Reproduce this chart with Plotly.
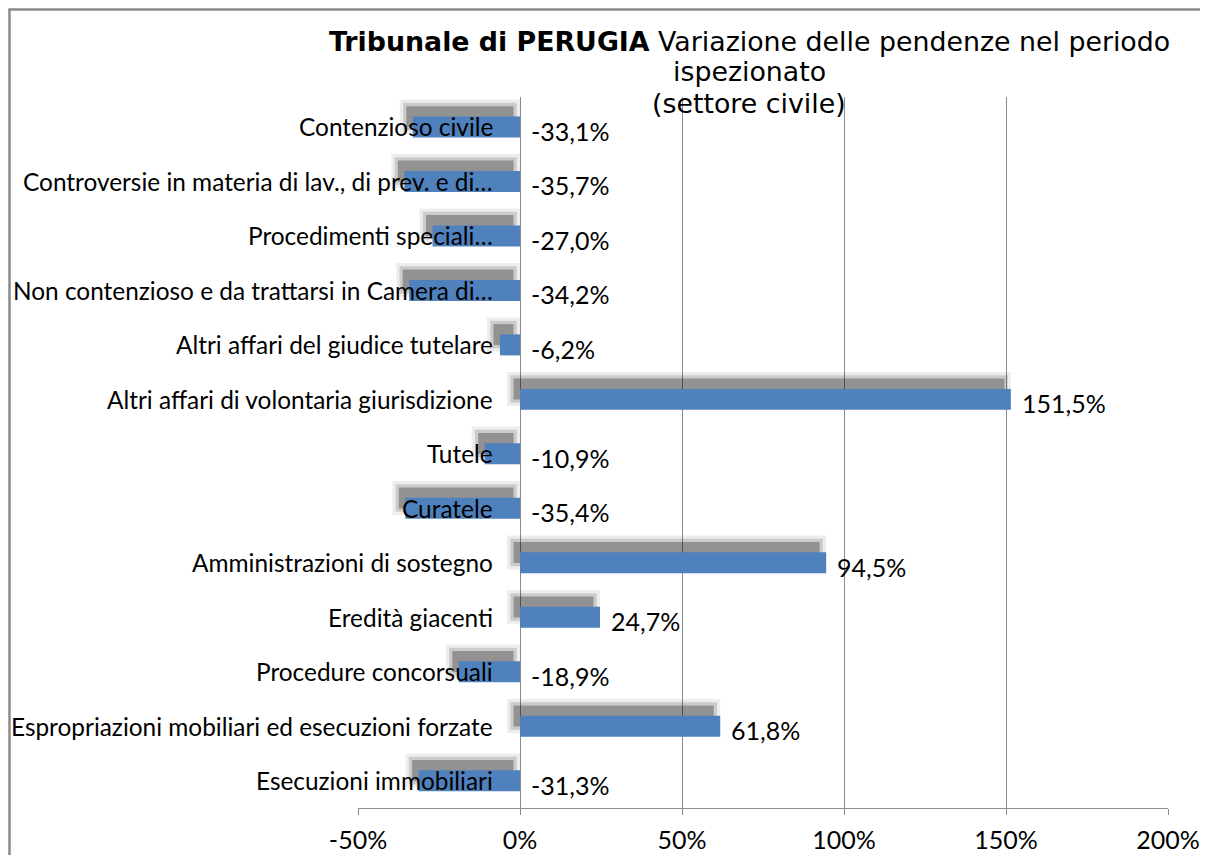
import plotly.graph_objects as go

categories = [
    "Contenzioso civile",
    "Controversie in materia di lav., di prev. e di…",
    "Procedimenti speciali…",
    "Non contenzioso e da trattarsi in Camera di…",
    "Altri affari del giudice tutelare",
    "Altri affari di volontaria giurisdizione",
    "Tutele",
    "Curatele",
    "Amministrazioni di sostegno",
    "Eredità giacenti",
    "Procedure concorsuali",
    "Espropriazioni mobiliari ed esecuzioni forzate",
    "Esecuzioni immobiliari",
]
values = [-33.1, -35.7, -27.0, -34.2, -6.2, 151.5, -10.9, -35.4, 94.5, 24.7, -18.9, 61.8, -31.3]
tick_values = [-50, 0, 50, 100, 150, 200]
tick_labels = ["-50%", "0%", "50%", "100%", "150%", "200%"]

BLUE = "#4F81BD"
GRID = "#8c8c8c"
LABEL_FONT = dict(family="Lato", size=25, color="#000000")
CAT_FONT = dict(family="Lato", size=24.4, color="#000000")

# page body has an 8px margin, so the figure is drawn 8px in from the window corner
OFF = 8
W, H = 1208 - OFF, 855 - OFF
L, R, T, B = 358 - OFF, 40, 97 - OFF, 47
plot_h = H - T - B
plot_w = W - L - R

def py(p):
    return (H - B - (p - OFF)) / plot_h

def px(p):
    return ((p - OFF) - L) / plot_w

fig = go.Figure()

bw = 0.385
# soft drop shadow (up-left), built from a few translucent layers
shadow_shift_x = -2.0   # in axis units (%)
shadow_shift_y = -0.19  # in category units (upwards)
for grow, alpha in [(2.0, 0.07), (1.0, 0.14), (0.0, 0.28)]:
    sgn = [1 if v >= 0 else -1 for v in values]
    xs = [v + 2 * grow * s for v, s in zip(values, sgn)]
    bases = [shadow_shift_x - grow * s for s in sgn]
    gy = grow * 0.06
    fig.add_trace(go.Bar(y=categories, x=xs, base=bases, orientation="h",
                         width=bw + 2 * gy, offset=-bw / 2 + shadow_shift_y - gy,
                         marker=dict(color=f"rgba(0,0,0,{alpha})", line_width=0),
                         hoverinfo="skip", showlegend=False))
fig.add_trace(go.Bar(y=categories, x=values, orientation="h",
                     width=bw, offset=-bw / 2, marker=dict(color=BLUE, line_width=0),
                     showlegend=False))

annotations = []
for c, v in zip(categories, values):
    annotations.append(dict(x=0, y=c, xref="x", yref="y", text=c, showarrow=False,
                            xanchor="right", yanchor="middle", xshift=-25, font=CAT_FONT))
    annotations.append(dict(x=max(v, 0), y=c, xref="x", yref="y",
                            text=f"{v:.1f}%".replace(".", ","), showarrow=False,
                            xanchor="left", yanchor="middle", xshift=9, yshift=-4,
                            font=LABEL_FONT))

title_font = dict(family="DejaVu Sans", size=26.8, color="#000000")
title_x = px(749)
annotations += [
    dict(x=title_x, y=py(42), xref="paper", yref="paper", showarrow=False,
         text="<b>Tribunale di PERUGIA</b> Variazione delle pendenze nel periodo",
         xanchor="center", yanchor="middle", font=title_font),
    dict(x=title_x, y=py(72), xref="paper", yref="paper", showarrow=False,
         text="ispezionato", xanchor="center", yanchor="middle", font=title_font),
    dict(x=title_x, y=py(103), xref="paper", yref="paper", showarrow=False,
         text="(settore civile)", xanchor="center", yanchor="middle", font=title_font),
]

fig.update_layout(
    width=W, height=H,
    margin=dict(l=L, r=R, t=T, b=B, autoexpand=False),
    paper_bgcolor="white", plot_bgcolor="white",
    barmode="overlay",
    annotations=annotations,
    shapes=[dict(type="path", xref="paper", yref="paper",
                 path=f"M {px(9.5)} {py(870)} L {px(9.5)} {py(9.5)} L {px(1240)} {py(9.5)}",
                 line=dict(color="#8a8a8a", width=2.5))],
    xaxis=dict(range=[-50, 200], tickvals=tick_values, ticktext=tick_labels,
               showgrid=True, gridcolor=GRID, gridwidth=1,
               zeroline=True, zerolinecolor=GRID, zerolinewidth=1,
               showline=True, linecolor=GRID, linewidth=1,
               ticks="outside", ticklen=6, tickcolor=GRID, automargin=False,
               tickfont=LABEL_FONT, ticklabelstandoff=4, fixedrange=True),
    yaxis=dict(type="category", categoryorder="array", categoryarray=categories,
               range=[12.5, -0.55], showticklabels=False, showgrid=False, automargin=False,
               zeroline=False, showline=False, ticks="", fixedrange=True),
)

fig.write_html("out.html")
